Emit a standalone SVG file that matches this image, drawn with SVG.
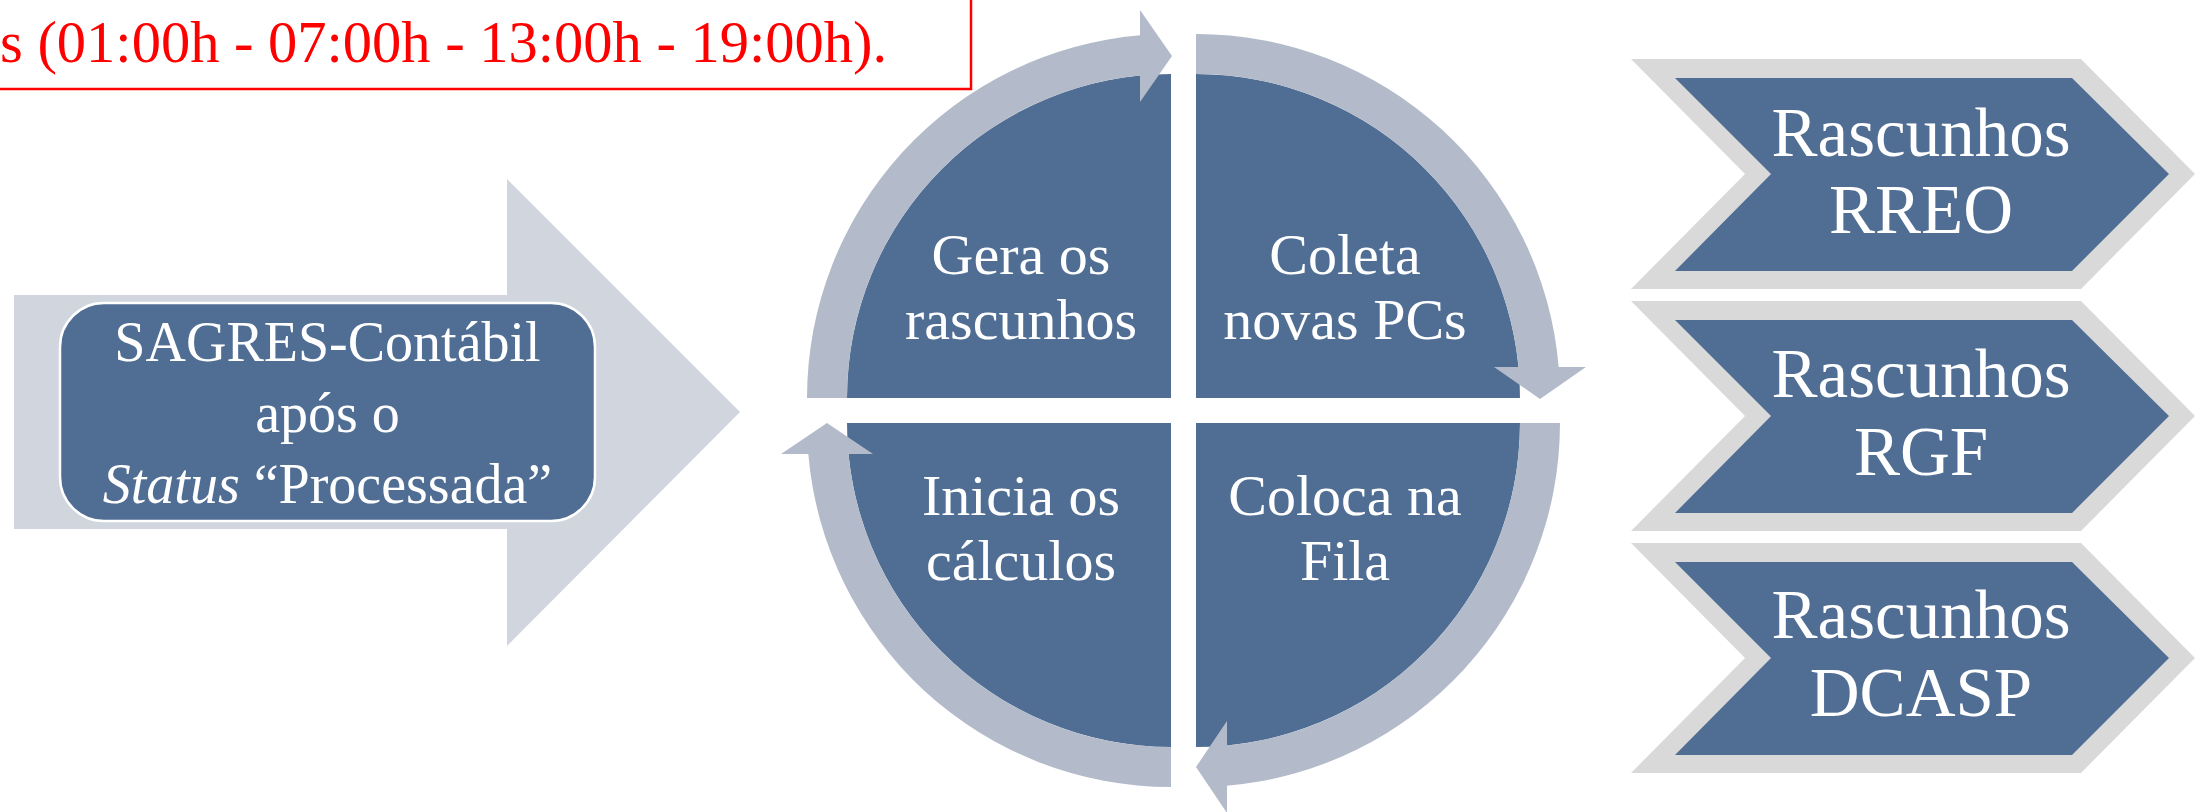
<svg xmlns="http://www.w3.org/2000/svg" width="2206" height="812" viewBox="0 0 2206 812">
<style>
.dark{fill:#506E94}
.band{fill:#B3BBCA}
.lbl{font-family:"Liberation Serif","Times New Roman",serif;fill:#FFFFFF;text-anchor:middle}
.q{font-size:58px}
.c{font-size:69px}
.chev-out{fill:#D9D9D9}
</style>
<rect x="0" y="0" width="2206" height="812" fill="#FFFFFF"/>
<g id="note">
<rect x="-10" y="-60" width="981" height="149" fill="#FFFFFF" stroke="#FF0000" stroke-width="2.5"/>
<text x="0" y="62" font-family="'Liberation Serif','Times New Roman',serif" font-size="58.5" fill="#FF0000">s (01:00h - 07:00h - 13:00h - 19:00h).</text>
</g>
<g id="input">
<polygon points="14,295 507,295 507,179 740,412 507,646 507,529 14,529" fill="#D1D6DE"/>
<rect x="60" y="303" width="535" height="218" rx="44" ry="44" class="dark" stroke="#FFFFFF" stroke-width="2.5"/>
<text class="lbl" font-size="56" x="327.5" y="361">SAGRES-Contábil</text>
<text class="lbl" font-size="56" x="327.5" y="432">após o</text>
<text class="lbl" font-size="56" x="327.5" y="503"><tspan font-style="italic">Status</tspan> “Processada”</text>
</g>
<g id="q-gera">
<path class="dark" d="M1171,398 L847,398 A324,324 0 0 1 1171,74 Z"/>
<text class="lbl q" x="1021" y="274">Gera os</text>
<text class="lbl q" x="1021" y="339">rascunhos</text>
</g>
<g id="q-coleta">
<path class="dark" d="M1196,398 L1196,74 A324,324 0 0 1 1520,398 Z"/>
<text class="lbl q" x="1345" y="274">Coleta</text>
<text class="lbl q" x="1345" y="339">novas PCs</text>
</g>
<g id="q-coloca">
<path class="dark" d="M1196,423 L1520,423 A324,324 0 0 1 1196,747 Z"/>
<text class="lbl q" x="1345" y="515">Coloca na</text>
<text class="lbl q" x="1345" y="580">Fila</text>
</g>
<g id="q-inicia">
<path class="dark" d="M1171,423 L1171,747 A324,324 0 0 1 847,423 Z"/>
<text class="lbl q" x="1021" y="515">Inicia os</text>
<text class="lbl q" x="1021" y="580">cálculos</text>
</g>
<g id="connectors">
<path class="band" d="M807,398 A364,364 0 0 1 1140,35.3 L1140,10 L1172,56 L1140,102 L1140,75.5 A324,324 0 0 0 847,398 Z"/>
<path class="band" d="M1196,34 A364,364 0 0 1 1558.7,367 L1586,367 L1540,399 L1494,367 L1518.5,367 A324,324 0 0 0 1196,74 Z"/>
<path class="band" d="M1560,423 A364,364 0 0 1 1227,785.7 L1227,813 L1196,767 L1227,721 L1227,745.5 A324,324 0 0 0 1520,423 Z"/>
<path class="band" d="M1171,787 A364,364 0 0 1 808.3,454 L781,454 L827,423 L873,454 L848.5,454 A324,324 0 0 0 1171,747 Z"/>
</g>
<g id="out-rreo">
<polygon class="chev-out" points="1631,59 2081,59 2195,174 2081,289 1631,289 1745,174"/>
<polygon class="dark" points="1675,78 2072,78 2169,174 2072,271 1675,271 1771,174"/>
<text class="lbl c" x="1921" y="156">Rascunhos</text>
<text class="lbl c" x="1921" y="233">RREO</text>
</g>
<g id="out-rgf">
<polygon class="chev-out" points="1631,301 2081,301 2195,416 2081,531 1631,531 1745,416"/>
<polygon class="dark" points="1675,320 2072,320 2169,416 2072,513 1675,513 1771,416"/>
<text class="lbl c" x="1921" y="397">Rascunhos</text>
<text class="lbl c" x="1921" y="475">RGF</text>
</g>
<g id="out-dcasp">
<polygon class="chev-out" points="1631,543 2081,543 2195,658 2081,773 1631,773 1745,658"/>
<polygon class="dark" points="1675,562 2072,562 2169,658 2072,755 1675,755 1771,658"/>
<text class="lbl c" x="1921" y="638">Rascunhos</text>
<text class="lbl c" x="1921" y="716">DCASP</text>
</g>
</svg>
